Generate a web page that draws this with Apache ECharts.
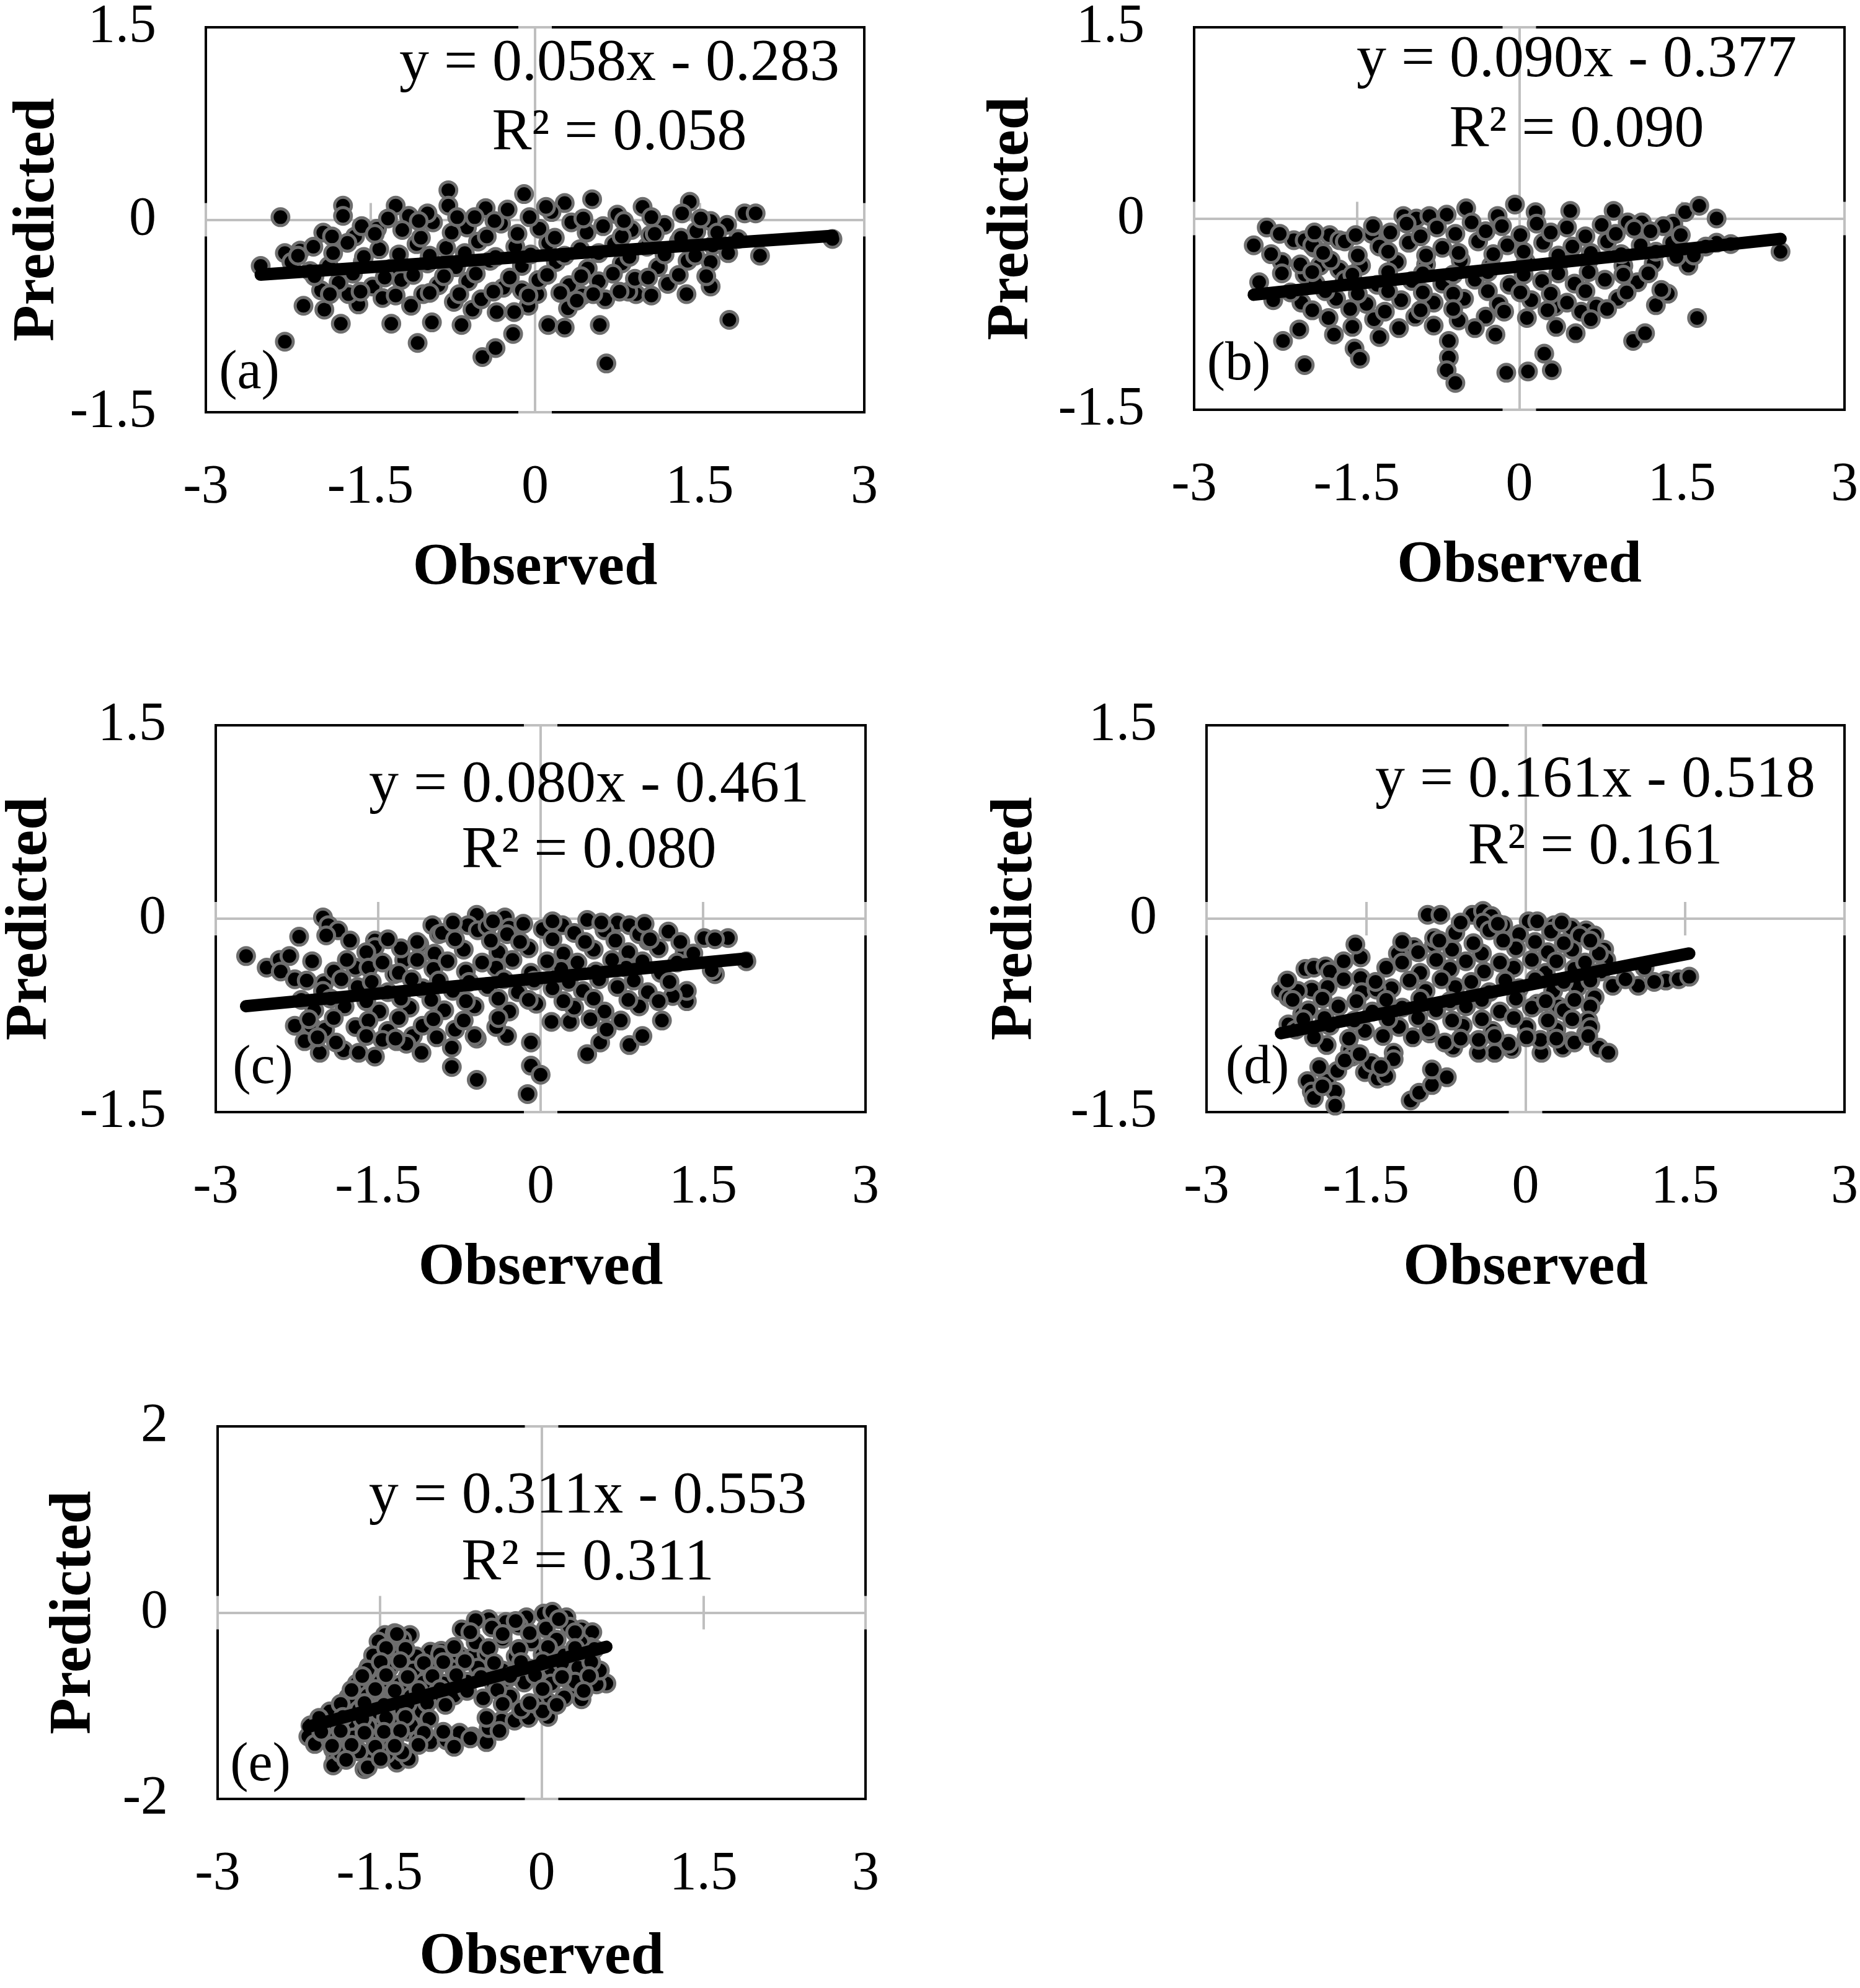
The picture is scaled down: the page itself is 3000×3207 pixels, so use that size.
<!DOCTYPE html>
<html>
<head>
<meta charset="utf-8">
<script src="https://cdn.jsdelivr.net/npm/echarts@6/dist/echarts.min.js"></script>
<style>
  html, body { margin: 0; padding: 0; background: #fff; }
  #chart { width: 3000px; height: 3207px; }
</style>
</head>
<body>
<div id="chart"></div>
<script>
// observed / predicted pairs
var pointsA = [
  [-2.32,0.02],[-2.28,-0.26],[-2.14,-0.24],[-2.50,-0.36],[-2.11,-0.67],[-1.92,-0.70],[-1.77,-0.81],[-2.28,-0.95],
  [-1.93,-0.10],[-1.75,0.11],[-1.75,0.03],[-1.64,-0.13],[-1.44,-0.07],[-1.27,0.11],[-1.15,0.03],[-1.07,-0.96],
  [-1.31,-0.81],[-0.94,-0.80],[-0.67,-0.82],[-0.79,0.23],[-0.79,0.11],[-0.45,0.09],[-0.10,0.20],[-0.48,-1.07],
  [-0.36,-1.00],[-0.20,-0.89],[0.12,-0.82],[0.27,-0.84],[0.30,-0.69],[0.59,-0.82],[0.65,-1.12],[0.64,-0.62],
  [0.52,0.16],[0.27,0.13],[0.98,0.10],[1.41,0.14],[1.34,0.05],[1.60,-0.01],[1.75,-0.04],[1.91,0.05],[2.01,0.05],
  [2.71,-0.15],[1.60,-0.33],[1.60,-0.52],[1.77,-0.78],[0.92,-0.58],[0.85,-0.56],[0.43,-0.59],[0.02,-0.58],
  [-0.06,-0.67],[-0.19,-0.72],[-0.35,-0.72],[-0.57,-0.70],[-0.74,-0.64],[-1.13,-0.67],[-1.61,-0.66],[-1.70,-0.58],
  [-1.58,-0.05],[-1.21,-0.08],[-0.93,-0.02],[-0.62,-0.06],[-0.31,-0.03],[0.04,-0.07],[0.33,-0.02],[0.62,-0.05],
  [0.88,-0.08],[1.18,-0.04],[1.47,-0.09],[-2.02,-0.21],[-1.71,-0.18],[-1.42,-0.23],[-1.08,-0.19],[-0.81,-0.22],
  [-0.52,-0.17],[-0.18,-0.21],[0.12,-0.18],[0.41,-0.23],[0.72,-0.19],[1.02,-0.21],[1.31,-0.17],[1.62,-0.20],
  [-1.88,-0.36],[-1.57,-0.33],[-1.31,-0.38],[-0.98,-0.34],[-0.72,-0.37],[-0.41,-0.32],[-0.12,-0.36],[0.19,-0.33],
  [0.48,-0.38],[0.79,-0.34],[1.12,-0.37],[1.39,-0.32],[-1.79,-0.49],[-1.48,-0.52],[-1.22,-0.47],[-0.88,-0.51],
  [-0.61,-0.48],[-0.29,-0.53],[0.03,-0.47],[0.31,-0.51],[0.58,-0.48],[0.91,-0.46],[1.21,-0.50],[-1.39,-0.61],
  [-1.02,-0.58],[-0.49,-0.62],[-0.12,-0.55],[0.38,-0.63],[1.38,-0.58],[-2.05,-0.40],[-1.95,-0.55],[-2.22,-0.33],
  [-0.98,0.05],[-0.25,0.08],[0.15,0.06],[0.75,0.04],[1.05,-0.12],[1.85,-0.15],[2.05,-0.28],
  [-1.85,-0.13],[-1.46,-0.11],[-1.04,-0.14],[-0.76,-0.10],[-0.44,-0.13],[-0.16,-0.11],[0.18,-0.14],[0.47,-0.10],
  [0.79,-0.13],[1.09,-0.11],[1.33,-0.14],[1.66,-0.10],[-2.16,-0.28],[-1.84,-0.26],[-1.56,-0.29],[-1.24,-0.27],
  [-0.96,-0.28],[-0.64,-0.26],[-0.36,-0.29],[-0.04,-0.27],[0.27,-0.28],[0.58,-0.26],[0.86,-0.29],[1.18,-0.27],
  [1.46,-0.28],[1.76,-0.26],[-2.01,-0.44],[-1.66,-0.42],[-1.37,-0.45],[-1.11,-0.43],[-0.83,-0.44],[-0.54,-0.42],
  [-0.23,-0.45],[0.11,-0.43],[0.42,-0.44],[0.71,-0.42],[1.03,-0.45],[1.31,-0.43],[1.56,-0.44],[-1.87,-0.58],
  [-1.59,-0.56],[-1.27,-0.59],[-0.96,-0.57],[-0.69,-0.58],[-0.38,-0.56],[-0.06,-0.59],[0.23,-0.57],[0.53,-0.58],
  [0.77,-0.56],[1.06,-0.59],[-1.34,0.01],[-1.06,-0.01],[-0.71,0.02],[-0.37,-0.01],[-0.05,0.02],[0.44,0.01],
  [0.81,-0.01],[1.06,0.02],[1.51,0.01],[-0.55,0.02],[0.10,0.10]
];
var pointsB = [
  [-2.45,-0.21],[-2.33,-0.07],[-2.40,-0.50],[-2.27,-0.64],[-2.19,-0.34],[-2.18,-0.96],[-2.03,-0.87],[-1.98,-1.15],
  [-2.08,-0.17],[-1.98,-0.17],[-1.98,-0.44],[-1.89,-0.23],[-1.84,-0.37],[-1.75,-0.13],[-1.66,-0.17],[-1.66,-0.40],
  [-1.71,-0.91],[-1.52,-1.02],[-1.47,-1.10],[-1.29,-0.93],[-1.36,-0.12],[-1.07,0.02],[-0.95,0.00],[-0.83,0.02],
  [-0.67,0.03],[-0.49,0.08],[-0.20,0.02],[-0.04,0.11],[-0.65,-0.96],[-0.65,-1.09],[-0.67,-1.19],[-0.59,-1.29],
  [-0.22,-0.91],[-0.12,-1.21],[0.08,-1.20],[0.23,-1.06],[0.30,-1.19],[0.07,-0.78],[0.33,-0.69],[0.52,-0.90],
  [0.57,-0.73],[0.71,-0.69],[1.05,-0.96],[1.16,-0.90],[1.26,-0.68],[1.37,-0.59],[1.64,-0.78],[1.56,-0.37],
  [1.53,0.05],[1.66,0.10],[1.82,0.00],[1.82,-0.19],[2.41,-0.26],[0.47,0.06],[0.87,0.06],[0.15,0.05],
  [1.00,-0.03],[1.13,-0.03],[1.42,-0.04],
  [-1.35,-0.06],[-1.04,-0.04],[-0.76,-0.07],[-0.44,-0.03],[-0.16,-0.06],[0.16,-0.04],[0.44,-0.07],[0.76,-0.05],
  [1.06,-0.08],[1.33,-0.06],[-1.91,-0.21],[-1.61,-0.18],[-1.29,-0.22],[-1.02,-0.19],[-0.71,-0.23],[-0.38,-0.18],
  [-0.11,-0.21],[0.22,-0.19],[0.49,-0.22],[0.81,-0.18],[1.12,-0.21],[1.41,-0.19],[1.72,-0.22],[-2.02,-0.36],
  [-1.74,-0.33],[-1.46,-0.37],[-1.13,-0.34],[-0.86,-0.36],[-0.54,-0.33],[-0.26,-0.37],[0.06,-0.34],[0.36,-0.36],
  [0.64,-0.33],[0.96,-0.37],[1.24,-0.35],[-1.88,-0.51],[-1.61,-0.48],[-1.31,-0.52],[-0.99,-0.49],[-0.71,-0.51],
  [-0.41,-0.48],[-0.09,-0.52],[0.21,-0.49],[0.51,-0.51],[0.79,-0.48],[1.09,-0.50],[-2.01,-0.66],[-1.69,-0.63],
  [-1.41,-0.67],[-1.09,-0.64],[-0.79,-0.66],[-0.51,-0.63],[-0.19,-0.67],[0.11,-0.64],[0.44,-0.66],[0.91,-0.63],
  [-1.76,-0.78],[-1.34,-0.79],[-0.96,-0.77],[-0.56,-0.80],[-0.31,-0.77],[0.66,-0.79],[1.45,-0.30],[1.95,-0.20],
  [-2.21,-0.12],[-1.89,-0.11],[-1.51,-0.13],[-1.19,-0.11],[-0.91,-0.14],[-0.59,-0.12],[-0.31,-0.10],[0.01,-0.13],
  [0.29,-0.11],[0.61,-0.14],[0.89,-0.12],[1.21,-0.10],[1.49,-0.13],[-2.29,-0.28],[-1.81,-0.27],[-1.49,-0.29],
  [-1.21,-0.26],[-0.86,-0.29],[-0.56,-0.27],[-0.24,-0.28],[0.04,-0.26],[0.36,-0.29],[0.66,-0.27],[0.94,-0.28],
  [1.26,-0.26],[1.61,-0.29],[-2.19,-0.43],[-1.91,-0.42],[-1.54,-0.44],[-1.21,-0.42],[-0.89,-0.43],[-0.61,-0.44],
  [-0.29,-0.42],[0.04,-0.44],[0.36,-0.43],[0.64,-0.42],[0.96,-0.44],[1.19,-0.43],[-2.11,-0.58],[-1.79,-0.57],
  [-1.49,-0.59],[-1.21,-0.57],[-0.89,-0.58],[-0.61,-0.59],[-0.29,-0.57],[0.01,-0.58],[0.29,-0.59],[0.61,-0.57],
  [0.99,-0.58],[1.31,-0.56],[-1.91,-0.72],[-1.56,-0.71],[-1.24,-0.73],[-0.91,-0.72],[-0.61,-0.71],[-0.14,-0.73],
  [0.26,-0.72],[0.81,-0.71],[-1.54,-0.85],[-1.11,-0.86],[-0.79,-0.84],[-0.41,-0.86],[0.34,-0.85]
];
var pointsC = [
  [-2.72,-0.29],[-2.53,-0.38],[-2.41,-0.32],[-2.32,-0.29],[-2.40,-0.41],[-2.27,-0.47],[-2.23,-0.14],[-2.01,0.01],
  [-1.96,-0.05],[-1.87,-0.09],[-1.98,-0.13],[-2.27,-0.83],[-2.12,-0.83],[-2.18,-0.95],[-2.04,-1.04],[-2.00,-0.50],
  [-1.82,-1.02],[-1.68,-1.04],[-1.53,-1.07],[-1.53,-0.17],[-1.53,-0.22],[-1.71,-0.38],[-1.26,-0.32],[-1.35,-0.43],
  [-1.33,-0.95],[-1.18,-0.91],[-1.10,-1.04],[-1.00,-0.05],[-0.94,-0.12],[-0.59,0.03],[-0.67,-0.05],[-0.33,0.01],
  [-0.29,-0.07],[-0.82,-1.00],[-0.82,-1.15],[-0.59,-1.25],[-0.59,-0.93],[-0.31,-0.91],[-0.12,-1.36],[-0.09,-1.14],
  [0.00,-1.21],[-0.09,-0.96],[-0.04,-0.66],[0.10,-0.80],[0.27,-0.80],[0.43,-1.05],[0.55,-0.96],[0.61,-0.86],
  [0.82,-0.98],[0.94,-0.91],[1.12,-0.79],[1.35,-0.64],[1.35,-0.56],[1.22,-0.60],[1.61,-0.43],[1.73,-0.15],
  [1.51,-0.15],[1.90,-0.33],[1.33,-0.26],[0.43,-0.01],[0.71,-0.03],[0.82,-0.05],[0.99,-0.17],[0.20,-0.05],
  [-0.91,-0.11],[-0.58,-0.09],[-0.31,-0.12],[0.02,-0.08],[0.31,-0.11],[0.59,-0.09],[0.91,-0.12],[1.18,-0.10],
  [-1.61,-0.26],[-1.29,-0.23],[-0.98,-0.27],[-0.71,-0.24],[-0.39,-0.26],[-0.11,-0.23],[0.21,-0.27],[0.49,-0.24],
  [0.81,-0.26],[1.09,-0.23],[1.41,-0.27],[-1.91,-0.41],[-1.59,-0.38],[-1.31,-0.42],[-0.99,-0.39],[-0.69,-0.41],
  [-0.41,-0.38],[-0.09,-0.42],[0.19,-0.39],[0.51,-0.41],[0.79,-0.38],[1.11,-0.42],[1.58,-0.40],[-2.01,-0.56],
  [-1.69,-0.53],[-1.41,-0.57],[-1.09,-0.54],[-0.81,-0.56],[-0.49,-0.53],[-0.21,-0.57],[0.11,-0.54],[0.39,-0.56],
  [0.71,-0.53],[0.99,-0.57],[-2.09,-0.71],[-1.81,-0.68],[-1.49,-0.72],[-1.21,-0.69],[-0.89,-0.71],[-0.61,-0.68],
  [-0.29,-0.72],[0.31,-0.69],[0.59,-0.72],[0.91,-0.68],[-1.99,-0.86],[-1.71,-0.84],[-1.41,-0.87],[-1.09,-0.83],
  [-0.79,-0.86],[-0.41,-0.84],[-1.89,-0.96],[-1.46,-0.94],[-1.24,-0.97],[-0.49,-0.06],[-1.12,-0.20],
  [-0.81,-0.03],[-0.44,-0.02],[-0.16,-0.04],[0.11,-0.02],[0.56,-0.03],[0.96,-0.04],[-1.76,-0.17],[-1.41,-0.16],
  [-1.14,-0.18],[-0.79,-0.16],[-0.46,-0.17],[-0.19,-0.18],[0.11,-0.16],[0.41,-0.18],[0.69,-0.17],[1.01,-0.16],
  [1.29,-0.18],[1.61,-0.16],[-2.11,-0.33],[-1.79,-0.32],[-1.46,-0.34],[-1.14,-0.32],[-0.86,-0.33],[-0.54,-0.34],
  [-0.26,-0.32],[0.06,-0.33],[0.34,-0.34],[0.66,-0.32],[0.94,-0.33],[1.26,-0.34],[-2.16,-0.48],[-1.84,-0.47],
  [-1.56,-0.49],[-1.19,-0.47],[-0.94,-0.48],[-0.66,-0.49],[-0.34,-0.47],[-0.06,-0.48],[0.26,-0.49],[0.54,-0.47],
  [0.86,-0.48],[1.19,-0.49],[-2.21,-0.63],[-1.94,-0.62],[-1.61,-0.64],[-1.29,-0.62],[-1.01,-0.63],[-0.69,-0.64],
  [-0.39,-0.62],[-0.11,-0.63],[0.21,-0.64],[0.49,-0.62],[0.81,-0.63],[1.09,-0.64],[-2.14,-0.78],[-1.91,-0.77],
  [-1.59,-0.79],[-1.31,-0.77],[-0.99,-0.78],[-0.71,-0.79],[-0.39,-0.77],[0.46,-0.78],[0.74,-0.79],[-2.06,-0.92],
  [-1.61,-0.91],[-1.34,-0.93],[-0.96,-0.92],[-0.61,-0.91]
];
var pointsD = [
  [-2.30,-0.56],[-2.23,-0.61],[-2.07,-0.39],[-1.99,-0.38],[-1.88,-0.37],[-2.01,-0.55],[-2.10,-0.74],[-2.23,-0.82],
  [-1.87,-0.98],[-2.05,-1.26],[-2.01,-1.34],[-1.99,-1.39],[-1.87,-1.26],[-1.79,-1.34],[-1.79,-1.45],[-1.77,-1.18],
  [-1.65,-1.02],[-1.63,-1.07],[-1.51,-1.19],[-1.39,-1.24],[-1.31,-1.22],[-1.24,-1.04],[-1.24,-1.09],[-1.08,-1.41],
  [-1.00,-1.35],[-0.88,-1.29],[-0.88,-1.17],[-0.74,-1.23],[-1.55,-0.30],[-1.55,-0.46],[-1.20,-0.27],[-1.05,-0.22],
  [-0.92,0.03],[-0.80,0.03],[-0.86,-0.20],[-0.86,-0.15],[-0.50,0.03],[-0.40,0.06],[-0.32,0.02],[-0.40,-0.03],
  [-0.21,-0.05],[0.03,-0.02],[0.27,-0.05],[0.43,-0.07],[0.57,-0.09],[0.65,-0.13],[0.74,-0.24],[0.76,-0.32],
  [0.82,-0.52],[1.06,-0.52],[1.12,-0.38],[1.32,-0.48],[1.44,-0.47],[1.54,-0.45],[0.65,-0.61],[0.61,-0.68],
  [0.59,-0.79],[0.57,-0.89],[0.69,-1.00],[0.78,-1.04],[0.43,-0.95],[0.35,-1.00],[0.15,-1.04],[-0.13,-1.01],
  [-0.29,-1.04],[-0.44,-1.04],[-0.68,-1.00],[-0.90,-0.89],[0.31,-0.68],[0.11,-0.66],
  [-0.66,-0.11],[-0.34,-0.09],[-0.06,-0.12],[0.24,-0.10],[0.51,-0.13],[-1.01,-0.26],[-0.69,-0.24],[-0.41,-0.27],
  [-0.09,-0.23],[0.21,-0.26],[0.44,-0.24],[0.69,-0.27],[-1.84,-0.41],[-1.31,-0.38],[-0.99,-0.42],[-0.71,-0.39],
  [-0.39,-0.41],[-0.11,-0.38],[0.19,-0.42],[0.46,-0.39],[0.71,-0.41],[-2.14,-0.56],[-1.86,-0.53],[-1.54,-0.57],
  [-1.26,-0.54],[-0.94,-0.56],[-0.66,-0.53],[-0.34,-0.57],[-0.06,-0.54],[0.26,-0.56],[0.49,-0.53],[-2.04,-0.71],
  [-1.76,-0.68],[-1.44,-0.72],[-1.16,-0.69],[-0.84,-0.71],[-0.56,-0.68],[-0.24,-0.72],[0.06,-0.69],[0.36,-0.71],
  [-2.16,-0.86],[-1.84,-0.83],[-1.51,-0.87],[-1.19,-0.84],[-0.91,-0.86],[-0.59,-0.83],[-0.31,-0.87],[0.01,-0.84],
  [0.29,-0.86],[0.61,-0.84],[-0.76,-0.96],[-0.44,-0.94],[-0.16,-0.97],[0.14,-0.94],[0.46,-0.96],[-1.60,-0.20],
  [-1.40,-0.55],[-1.70,-1.10],[-1.45,-1.12],
  [-0.61,-0.03],[-0.26,-0.04],[0.11,-0.02],[0.34,-0.03],[-1.16,-0.18],[-0.81,-0.17],[-0.49,-0.19],[-0.21,-0.17],
  [0.09,-0.18],[0.36,-0.19],[0.61,-0.17],[-1.71,-0.33],[-1.16,-0.34],[-0.84,-0.32],[-0.56,-0.33],[-0.24,-0.34],
  [0.06,-0.32],[0.29,-0.33],[0.56,-0.34],[-2.24,-0.48],[-1.71,-0.47],[-1.41,-0.49],[-1.09,-0.48],[-0.79,-0.47],
  [-0.51,-0.49],[-0.19,-0.48],[0.09,-0.47],[0.36,-0.49],[0.61,-0.48],[0.94,-0.47],[1.21,-0.49],[-2.19,-0.63],
  [-1.91,-0.62],[-1.59,-0.64],[-1.31,-0.63],[-0.99,-0.62],[-0.71,-0.64],[-0.41,-0.63],[-0.09,-0.62],[0.19,-0.64],
  [0.46,-0.63],[-2.09,-0.78],[-1.89,-0.77],[-1.61,-0.79],[-1.29,-0.78],[-1.01,-0.77],[-0.69,-0.79],[-0.41,-0.78],
  [-0.11,-0.77],[0.21,-0.79],[0.44,-0.78],[-1.99,-0.92],[-1.66,-0.93],[-1.34,-0.91],[-1.06,-0.92],[-0.61,-0.93],
  [-0.29,-0.91],[0.01,-0.92],[0.29,-0.93],[0.59,-0.91],[-1.94,-1.15],[-1.91,-1.30],[-1.56,-1.05],[-1.36,-1.15]
];
var pointsE = [
  [-2.14,-1.21],[-2.16,-1.33],[-2.10,-1.41],[-1.93,-1.47],[-1.91,-1.57],[-1.93,-1.64],[-1.77,-1.36],[-1.81,-1.01],
  [-1.69,-0.93],[-1.62,-0.64],[-1.60,-0.58],[-1.45,-0.24],[-1.36,-0.22],[-1.22,-0.24],[-1.46,-0.41],[-1.38,-0.48],
  [-1.50,-1.25],[-1.46,-1.44],[-1.56,-1.53],[-1.64,-1.68],[-1.34,-1.61],[-1.23,-1.57],[-1.23,-1.28],[-1.03,-1.39],
  [-0.88,-1.37],[-0.76,-1.29],[-0.64,-1.33],[-0.51,-1.39],[-0.49,-1.24],[-0.37,-1.16],[-0.25,-1.16],[-0.12,-1.13],
  [0.06,-1.12],[-0.74,-0.18],[-1.03,-0.42],[-0.93,-0.41],[-0.64,-0.48],[-0.49,-0.07],[-0.33,-0.10],[-0.14,-0.05],
  [0.02,-0.01],[0.10,0.01],[0.23,-0.05],[0.37,-0.18],[0.47,-0.21],[0.45,-0.37],[0.60,-0.76],[0.51,-0.77],
  [0.33,-0.85],[0.37,-0.93],[0.25,-0.72],[0.29,-0.48],[-0.33,-0.72],[-0.21,-0.69],[-0.02,-0.66],[0.06,-0.96],
  [-0.06,-0.98],
  [-0.46,-0.16],[-0.21,-0.14],[0.04,-0.17],[0.26,-0.15],[-1.51,-0.31],[-1.29,-0.29],[-0.61,-0.32],[-0.36,-0.28],
  [-0.09,-0.31],[0.14,-0.29],[0.36,-0.32],[-1.56,-0.46],[-1.34,-0.44],[-1.16,-0.47],[-0.94,-0.45],[-0.76,-0.46],
  [-0.51,-0.44],[-0.24,-0.47],[0.01,-0.45],[0.21,-0.46],[0.44,-0.44],[-1.61,-0.61],[-1.41,-0.59],[-1.19,-0.62],
  [-0.99,-0.60],[-0.81,-0.61],[-0.59,-0.59],[-0.36,-0.62],[-0.11,-0.60],[0.09,-0.61],[0.34,-0.59],[0.54,-0.62],
  [-1.71,-0.76],[-1.49,-0.74],[-1.31,-0.77],[-1.09,-0.75],[-0.91,-0.76],[-0.69,-0.74],[-0.44,-0.77],[-0.16,-0.75],
  [0.09,-0.76],[0.31,-0.74],[-1.79,-0.91],[-1.61,-0.89],[-1.39,-0.92],[-1.21,-0.90],[-0.99,-0.91],[-0.81,-0.89],
  [-0.54,-0.92],[-0.29,-0.90],[0.21,-0.91],[-1.96,-1.06],[-1.69,-1.04],[-1.51,-1.07],[-1.29,-1.05],[-1.11,-1.06],
  [-0.19,-1.04],[0.01,-1.06],[-2.01,-1.21],[-1.79,-1.19],[-1.61,-1.22],[-1.39,-1.20],[-1.21,-1.21],[-1.96,-1.36],
  [-1.74,-1.34],[-1.54,-1.37],[-1.36,-1.35],[-1.14,-1.36],[-0.66,-1.35],[-1.86,-1.51],[-1.69,-1.49],[-1.44,-1.52],
  [-1.29,-1.50],[-1.61,-1.66],
  [-0.61,-0.08],[-0.24,-0.09],[0.16,-0.07],[-1.34,-0.23],[-0.66,-0.21],[-0.36,-0.23],[-0.11,-0.22],[0.31,-0.21],
  [-1.44,-0.38],[-1.26,-0.39],[-0.81,-0.37],[-0.49,-0.38],[-0.21,-0.39],[0.06,-0.37],[0.31,-0.38],[0.49,-0.39],
  [-1.49,-0.53],[-1.31,-0.52],[-1.09,-0.54],[-0.91,-0.53],[-0.71,-0.52],[-0.44,-0.54],[-0.19,-0.53],[0.01,-0.52],
  [0.19,-0.54],[0.46,-0.53],[-1.66,-0.68],[-1.44,-0.67],[-1.24,-0.69],[-1.01,-0.68],[-0.79,-0.67],[-0.56,-0.69],
  [-0.29,-0.68],[-0.06,-0.67],[0.19,-0.69],[0.44,-0.68],[-1.76,-0.83],[-1.54,-0.82],[-1.36,-0.84],[-1.14,-0.83],
  [-0.94,-0.82],[-0.69,-0.84],[-0.41,-0.83],[0.01,-0.82],[0.39,-0.84],[-1.86,-0.98],[-1.64,-0.97],[-1.46,-0.99],
  [-1.24,-0.98],[-1.06,-0.97],[-0.89,-0.99],[-0.36,-0.98],[-0.11,-0.97],[0.14,-0.99],[-2.06,-1.13],[-1.84,-1.12],
  [-1.66,-1.14],[-1.44,-1.13],[-1.26,-1.12],[-1.04,-1.14],[-0.51,-1.13],[-2.04,-1.28],[-1.86,-1.27],[-1.64,-1.29],
  [-1.46,-1.28],[-1.31,-1.27],[-1.09,-1.29],[-0.91,-1.28],[-0.39,-1.27],[-1.94,-1.43],[-1.76,-1.42],[-1.54,-1.44],
  [-1.36,-1.43],[-1.14,-1.42],[-0.81,-1.44],[-1.81,-1.58],[-1.49,-1.57]
];

// Excel trendline coefficients printed on each panel
var slopes = [0.058, 0.090, 0.080, 0.161, 0.311];
var intercepts = [-0.283, -0.377, -0.461, -0.518, -0.553];
var panelTags = ['(a)', '(b)', '(c)', '(d)', '(e)'];
var xTicks = [-3, 3, 1.5];            // min, max, interval
var yTicks = [[-1.5, 1.5, 1.5], [-1.5, 1.5, 1.5], [-1.5, 1.5, 1.5], [-1.5, 1.5, 1.5], [-2, 2, 2]];

var allPoints = [pointsA, pointsB, pointsC, pointsD, pointsE];

// panel boxes in px: left, top, width, height, y-name gap, x-name gap
var boxes = [
  [332, 41, 1062, 624, 221, 204],
  [1926, 41, 1049, 620, 246, 204],
  [342, 1170, 1054, 624, 251, 204],
  [1946, 1170, 1029, 624, 260, 204],
  [351, 2301, 1045, 628, 183, 208]
];
var eqPos = [[999, 104, 216], [2543, 98, 211], [950, 1268, 1374], [2573, 1260, 1368], [948, 2415, 2523]];
var tagPos = [[402, 603], [1998, 589], [424, 1724], [2028, 1724], [420, 2849]];

var FONT = '"Liberation Serif", "Times New Roman", serif';
var GRAY = '#BFBFBF';

var myChart = echarts.init(document.getElementById('chart'), null, { renderer: 'canvas' });

var grids = [], xAxes = [], yAxes = [], series = [], graphics = [];

boxes.forEach(function (b, i) {
  grids.push({
    left: b[0], top: b[1], width: b[2], height: b[3],
    show: true, borderColor: '#000', borderWidth: 4, backgroundColor: 'transparent'
  });
  var yt = yTicks[i];
  // label axes (at frame edges)
  xAxes.push({
    gridIndex: i, type: 'value', min: xTicks[0], max: xTicks[1], interval: xTicks[2], position: 'bottom',
    axisLine: { show: false, onZero: false }, axisTick: { show: false }, splitLine: { show: false },
    axisLabel: { color: '#000', fontSize: 88, fontFamily: FONT, margin: 78 },
    name: 'Observed', nameLocation: 'middle', nameGap: b[5],
    nameTextStyle: { color: '#000', fontSize: 96, fontWeight: 'bold', fontFamily: FONT }
  });
  // gray axis through zero, ticks crossing it
  xAxes.push({
    gridIndex: i, type: 'value', min: xTicks[0], max: xTicks[1], interval: xTicks[2], position: 'bottom',
    axisLine: { show: true, onZero: true, lineStyle: { color: GRAY, width: 4 } },
    axisTick: { show: true, length: 27, lineStyle: { color: GRAY, width: 4 } },
    axisLabel: { show: false }, splitLine: { show: false }
  });
  xAxes.push({
    gridIndex: i, type: 'value', min: xTicks[0], max: xTicks[1], interval: xTicks[2], position: 'bottom',
    axisLine: { show: false, onZero: true },
    axisTick: { show: true, inside: true, length: 27, lineStyle: { color: GRAY, width: 4 } },
    axisLabel: { show: false }, splitLine: { show: false }
  });
  yAxes.push({
    gridIndex: i, type: 'value', min: yt[0], max: yt[1], interval: yt[2], position: 'left',
    axisLine: { show: false, onZero: false }, axisTick: { show: false }, splitLine: { show: false },
    axisLabel: { color: '#000', fontSize: 88, fontFamily: FONT, margin: 80 },
    name: 'Predicted', nameLocation: 'middle', nameGap: b[4],
    nameTextStyle: { color: '#000', fontSize: 96, fontWeight: 'bold', fontFamily: FONT }
  });
  yAxes.push({
    gridIndex: i, type: 'value', min: yt[0], max: yt[1], interval: yt[2], position: 'left',
    axisLine: { show: true, onZero: true, lineStyle: { color: GRAY, width: 4 } },
    axisTick: { show: true, length: 27, lineStyle: { color: GRAY, width: 4 } },
    axisLabel: { show: false }, splitLine: { show: false }
  });
  yAxes.push({
    gridIndex: i, type: 'value', min: yt[0], max: yt[1], interval: yt[2], position: 'left',
    axisLine: { show: false, onZero: true },
    axisTick: { show: true, inside: true, length: 27, lineStyle: { color: GRAY, width: 4 } },
    axisLabel: { show: false }, splitLine: { show: false }
  });

  var pts = allPoints[i];
  series.push({
    type: 'scatter', xAxisIndex: 3 * i, yAxisIndex: 3 * i, data: pts,
    symbolSize: 27, z: 3,
    itemStyle: { color: '#000', borderColor: '#6E6E6E', borderWidth: 5, opacity: 1 }
  });
  // linear trendline across the observed range
  var xs = pts.map(function (p) { return p[0]; });
  var x0 = Math.min.apply(null, xs), x1 = Math.max.apply(null, xs);
  series.push({
    type: 'line', xAxisIndex: 3 * i, yAxisIndex: 3 * i, z: 4,
    data: [[x0, slopes[i] * x0 + intercepts[i]], [x1, slopes[i] * x1 + intercepts[i]]],
    symbol: 'none', silent: true,
    lineStyle: { color: '#000', width: 20, cap: 'round' }
  });

  var e = eqPos[i];
  var sign = intercepts[i] < 0 ? ' - ' : ' + ';
  graphics.push({
    type: 'text', z: 10, style: {
      text: 'y = ' + slopes[i].toFixed(3) + 'x' + sign + Math.abs(intercepts[i]).toFixed(3),
      x: e[0], y: e[1], textAlign: 'center', textVerticalAlign: 'middle',
      font: '96px ' + FONT, fill: '#000'
    }
  });
  graphics.push({
    type: 'text', z: 10, style: {
      text: 'R\u00B2 = ' + slopes[i].toFixed(3),
      x: e[0], y: e[2], textAlign: 'center', textVerticalAlign: 'middle',
      font: '96px ' + FONT, fill: '#000'
    }
  });
  graphics.push({
    type: 'text', z: 10, style: {
      text: panelTags[i], x: tagPos[i][0], y: tagPos[i][1],
      textAlign: 'center', textVerticalAlign: 'middle', font: '88px ' + FONT, fill: '#000'
    }
  });
});

var option = {
  backgroundColor: '#fff',
  animation: false,
  grid: grids,
  xAxis: xAxes,
  yAxis: yAxes,
  series: series,
  graphic: graphics
};
myChart.setOption(option);
</script>
</body>
</html>
